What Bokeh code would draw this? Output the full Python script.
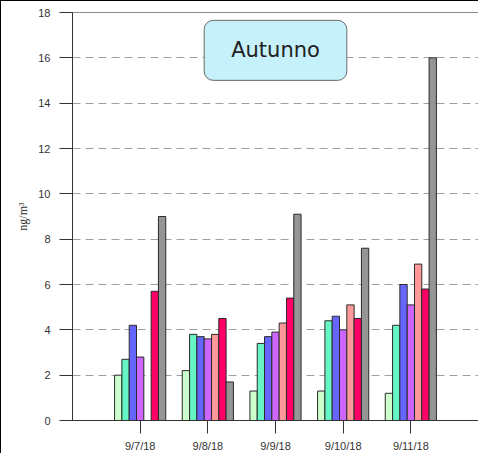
from bokeh.plotting import figure
from bokeh.models import ColumnDataSource, FixedTicker, Label, Range1d
from bokeh.embed import file_html
from bokeh.resources import INLINE
import numpy as np

dates = ["9/7/18", "9/8/18", "9/9/18", "9/10/18", "9/11/18"]
s1 = [2.0, 2.2, 1.3, 1.3, 1.2]
s2 = [2.7, 3.8, 3.4, 4.4, 4.2]
s3 = [4.2, 3.7, 3.7, 4.6, 6.0]
s4 = [2.8, 3.6, 3.9, 4.0, 5.1]
s5 = [np.nan, 3.8, 4.3, 5.1, 6.9]
s6 = [5.7, 4.5, 5.4, 4.5, 5.8]
s7 = [9.0, 1.7, 9.1, 7.6, 16.0]
series = [s1, s2, s3, s4, s5, s6, s7]
colors = ["#ccffcc", "#66f5c4", "#6666ff", "#cc66ff", "#ff9999", "#ff0066", "#959595"]
yticks = [0, 2, 4, 6, 8, 10, 12, 14, 16, 18]

p = figure(width=478, height=453, output_backend="svg", toolbar_location=None,
           x_range=Range1d(0, 6), y_range=Range1d(0, 18),
           min_border_left=71, min_border_right=1, min_border_top=11, min_border_bottom=32)
p.styles = {"border-top": "1px solid black", "border-left": "1px solid black"}

xs = np.arange(1, len(dates) + 1)
bw = 0.108
for i, (vals, c) in enumerate(zip(series, colors)):
    src = ColumnDataSource(dict(x=xs + (i - 3) * bw, top=vals))
    p.vbar(x="x", top="top", bottom=0, width=bw, source=src,
           fill_color=c, line_color="#2a2a2a", line_width=1)

p.xgrid.visible = False
p.ygrid.grid_line_color = "#a0a0a0"
p.ygrid.grid_line_dash = "8 5"
p.ygrid.grid_line_width = 1
p.outline_line_color = "#8a8a8a"

p.xaxis.ticker = FixedTicker(ticks=list(xs))
p.xaxis.major_label_overrides = {int(k): d for k, d in zip(xs, dates)}
p.yaxis.ticker = FixedTicker(ticks=yticks)
for ax in (p.xaxis, p.yaxis):
    ax.minor_tick_line_color = None
    ax.major_tick_in = 0
    ax.major_tick_out = 13
    ax.major_label_text_font = "Liberation Sans"
    ax.major_label_text_font_size = "11px"
    ax.major_label_text_color = "#333333"
    ax.axis_line_color = "#333333"
    ax.major_tick_line_color = "#333333"
p.xaxis.major_label_standoff = 6
p.yaxis.major_label_standoff = 9
p.yaxis.axis_label = "ng/m³"
p.yaxis.axis_label_text_font = "Liberation Serif"
p.yaxis.axis_label_text_font_style = "normal"
p.yaxis.axis_label_text_font_size = "12px"
p.yaxis.axis_label_text_color = "#333333"
p.yaxis.axis_label_standoff = 5

shadow = Label(x=3.0, y=16.33, text="Autunno", text_align="center", text_baseline="middle",
               text_font="DejaVu Sans", text_font_size="21px", text_alpha=0,
               background_fill_color="#666666", background_fill_alpha=0.5,
               padding=(27, 18), border_radius=9, x_offset=2, y_offset=-3)
title = Label(x=3.0, y=16.33, text="Autunno", text_align="center", text_baseline="middle",
              text_font="DejaVu Sans", text_font_size="21px", text_color="#222222",
              background_fill_color="#c6f0fa", border_line_color="#6a6a6a",
              border_line_width=1, padding=(27, 18), border_radius=9)
p.add_layout(shadow)
p.add_layout(title)

open("out.html", "w").write(file_html(p, INLINE))
